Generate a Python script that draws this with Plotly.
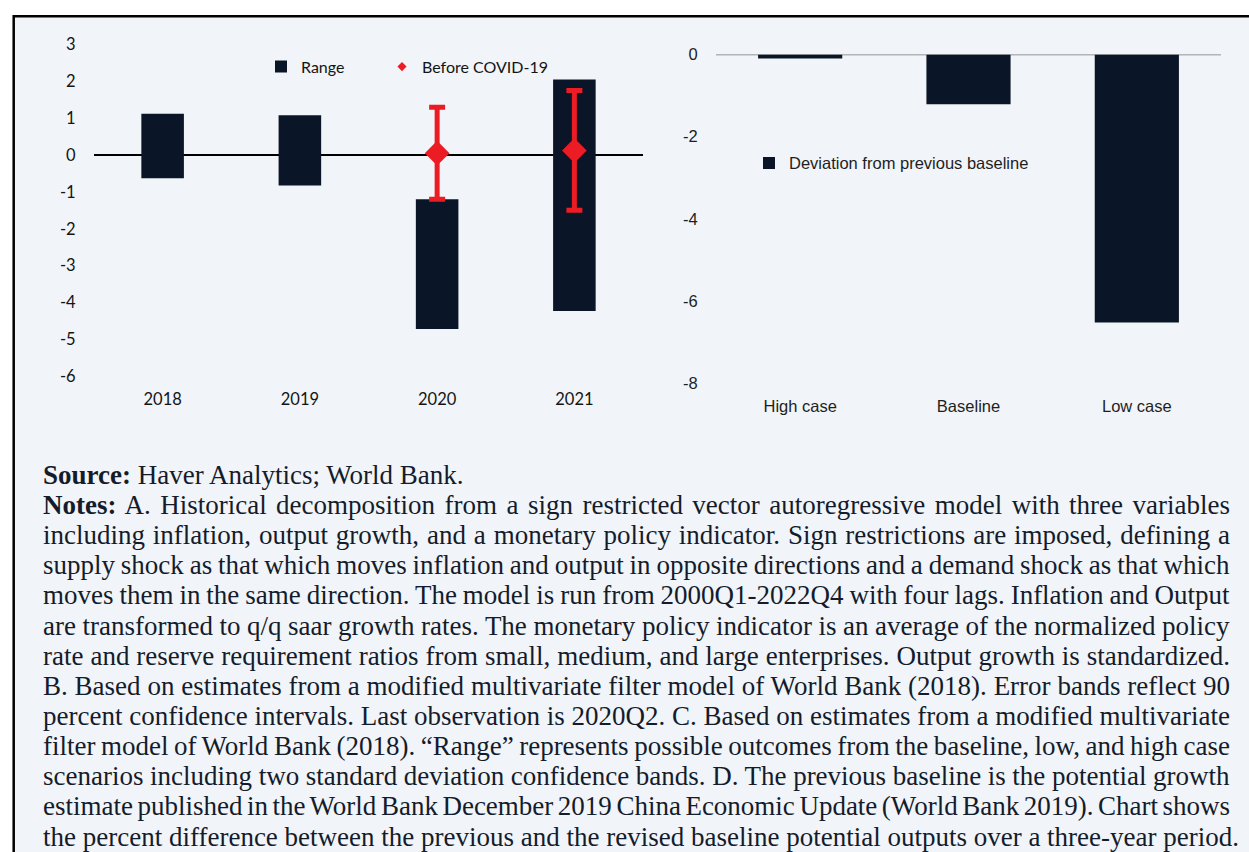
import json
import plotly.graph_objects as go

W, H = 1249, 852

# Panel C: range of outcomes and pre-COVID-19 estimate (percent)
years = ["2018", "2019", "2020", "2021"]
range_low = [-0.63, -0.83, -4.72, -4.23]
range_high = [1.12, 1.08, -1.20, 2.05]

covid_years = ["2020", "2021"]
before_covid = [0.05, 0.12]
before_covid_upper = [1.30, 1.75]
before_covid_lower = [-1.20, -1.50]

left_yticks = [-6, -5, -4, -3, -2, -1, 0, 1, 2, 3]

# Panel D: deviation from previous baseline (percent)
cases = ["High case", "Baseline", "Low case"]
deviation = [-0.10, -1.21, -6.52]

right_yticks = [-8, -6, -4, -2, 0]

note_lines = [
    "<b>Source:</b> Haver Analytics; World Bank.",
    "<b>Notes:</b> A. Historical decomposition from a sign restricted vector autoregressive model with three variables",
    "including inflation, output growth, and a monetary policy indicator. Sign restrictions are imposed, defining a",
    "supply shock as that which moves inflation and output in opposite directions and a demand shock as that which",
    "moves them in the same direction. The model is run from 2000Q1-2022Q4 with four lags. Inflation and Output",
    "are transformed to q/q saar growth rates. The monetary policy indicator is an average of the normalized policy",
    "rate and reserve requirement ratios from small, medium, and large enterprises. Output growth is standardized.",
    "B. Based on estimates from a modified multivariate filter model of World Bank (2018). Error bands reflect 90",
    "percent confidence intervals. Last observation is 2020Q2. C. Based on estimates from a modified multivariate",
    "filter model of World Bank (2018). \u201cRange\u201d represents possible outcomes from the baseline, low, and high case",
    "scenarios including two standard deviation confidence bands. D. The previous baseline is the potential growth",
    "estimate published in the World Bank December 2019 China Economic Update (World Bank 2019). Chart shows",
    "the percent difference between the previous and the revised baseline potential outputs over a three-year period.",
]

NAVY = "#0A1627"
RED = "#EC1C24"
PANEL_BG = "#F1F4F8"
TEXT = "#141C2C"
LEFT_FONT = "Lato, Calibri, sans-serif"
RIGHT_FONT = "Liberation Sans, Arial, sans-serif"
NOTE_FONT = "Liberation Serif, Times New Roman, serif"

# page offset/scale of the plot div inside the window
Y_OFF, Y_SCALE = 8.0, 0.9816


def px_x(v):
    return v / W


def px_y(v):
    return 1 - ((v - Y_OFF) / Y_SCALE) / H


fig = go.Figure()

# floating bars spanning low..high
fig.add_trace(go.Bar(
    x=years,
    y=[h - l for h, l in zip(range_high, range_low)],
    base=range_low,
    width=0.31,
    marker=dict(color=NAVY, line=dict(width=0)),
    name="Range",
    xaxis="x", yaxis="y",
    legend="legend",
    hoverinfo="skip",
))

fig.add_trace(go.Scatter(
    x=covid_years,
    y=before_covid,
    mode="markers",
    marker=dict(symbol="diamond", size=19, color=RED),
    error_y=dict(
        type="data", symmetric=False,
        array=[u - c for u, c in zip(before_covid_upper, before_covid)],
        arrayminus=[c - l for c, l in zip(before_covid, before_covid_lower)],
        color=RED, thickness=5, width=8,
    ),
    showlegend=False,
    xaxis="x", yaxis="y",
    hoverinfo="skip",
))

# legend entry with a small diamond
fig.add_trace(go.Scatter(
    x=[None], y=[None],
    mode="markers",
    marker=dict(symbol="diamond", size=7, color=RED),
    name="Before COVID-19",
    xaxis="x", yaxis="y",
    legend="legend3",
))

fig.add_trace(go.Bar(
    x=cases,
    y=deviation,
    width=0.5,
    marker=dict(color=NAVY, line=dict(width=0)),
    name="Deviation from previous baseline",
    xaxis="x2", yaxis="y2",
    legend="legend2",
    hoverinfo="skip",
))

note_top = 484.3 - 9.0
note_step = 30.3
annotations = []
for i, line in enumerate(note_lines):
    annotations.append(dict(
        xref="paper", yref="paper",
        x=px_x(42), y=px_y(note_top + i * note_step),
        xanchor="left", yanchor="middle", align="left",
        showarrow=False, borderpad=0,
        text=line,
        font=dict(family=NOTE_FONT, size=27, color=TEXT),
    ))

shapes = [
    dict(type="rect", xref="paper", yref="paper",
         x0=px_x(13.7), x1=1.05, y0=-0.05, y1=px_y(14.3),
         line=dict(color="black", width=2.5), fillcolor=PANEL_BG, layer="below"),
    dict(type="line", xref="x2 domain", yref="y2",
         x0=0, x1=1, y0=0, y1=0,
         line=dict(color="#767676", width=1.6), layer="below"),
]

legend_common = dict(
    xanchor="left", yanchor="middle",
    orientation="h", bgcolor="rgba(0,0,0,0)",
    itemclick=False, itemdoubleclick=False,
)

fig.update_layout(
    width=W, height=H, autosize=False,
    margin=dict(l=0, r=0, t=0, b=0),
    paper_bgcolor="white",
    plot_bgcolor="rgba(0,0,0,0)",
    showlegend=True,
    shapes=shapes,
    annotations=annotations,
    xaxis=dict(
        domain=[px_x(94), px_x(643)], anchor="y",
        type="category", categoryorder="array", categoryarray=years,
        range=[-0.5, 3.5],
        showgrid=False, zeroline=False, showline=False,
        ticks="outside", ticklen=8, tickcolor="rgba(0,0,0,0)",
        tickfont=dict(family=LEFT_FONT, size=16.5, color="#141414"),
        fixedrange=True,
    ),
    yaxis=dict(
        domain=[px_y(376.0), px_y(42.7)], anchor="x",
        range=[-6, 3],
        tickvals=left_yticks, ticktext=[str(v) for v in left_yticks],
        showgrid=False, showline=False,
        zeroline=True, zerolinecolor="black", zerolinewidth=2,
        ticks="outside", ticklen=14, tickcolor="rgba(0,0,0,0)",
        tickfont=dict(family=LEFT_FONT, size=16.5, color="#141414"),
        fixedrange=True,
    ),
    xaxis2=dict(
        domain=[px_x(716), px_x(1221)], anchor="y2",
        type="category", categoryorder="array", categoryarray=cases,
        range=[-0.5, 2.5],
        showgrid=False, zeroline=False, showline=False,
        ticks="outside", ticklen=8, tickcolor="rgba(0,0,0,0)",
        tickfont=dict(family=RIGHT_FONT, size=16.5, color="#1E1E1E"),
        fixedrange=True,
    ),
    yaxis2=dict(
        domain=[px_y(383.3), px_y(52.7)], anchor="x2",
        range=[-8, 0],
        tickvals=right_yticks, ticktext=[str(v) for v in right_yticks],
        showgrid=False, showline=False, zeroline=False,
        ticks="outside", ticklen=14, tickcolor="rgba(0,0,0,0)",
        tickfont=dict(family=RIGHT_FONT, size=16.5, color="#1E1E1E"),
        fixedrange=True,
    ),
    legend=dict(
        x=px_x(261), y=px_y(65),
        font=dict(family=LEFT_FONT, size=16, color="#141414"),
        **legend_common,
    ),
    legend3=dict(
        x=px_x(382), y=px_y(65),
        font=dict(family=LEFT_FONT, size=16, color="#141414"),
        **legend_common,
    ),
    legend2=dict(
        x=px_x(749), y=px_y(162),
        font=dict(family=RIGHT_FONT, size=16.5, color="#1E1E1E"),
        **legend_common,
    ),
)

# page without body margin; inner note lines spread flush to the right margin
justify = json.dumps(list(range(1, len(note_lines) - 1)))
post_js = """
document.documentElement.style.margin = '0';
document.documentElement.style.overflow = 'hidden';
document.body.style.margin = '0';
document.body.style.overflow = 'hidden';
var gd = document.getElementById('{plot_id}');
var edge = 1230;
var idx = JUSTIFY;
var left0 = gd.getBoundingClientRect().left;
gd.querySelectorAll('g.annotation').forEach(function(g) {
  var i = +g.getAttribute('data-index');
  if (idx.indexOf(i) < 0) return;
  var t = g.querySelector('text.annotation-text');
  if (!t) return;
  var n = (t.textContent.match(/ /g) || []).length;
  if (!n) return;
  var r = t.getBoundingClientRect();
  t.style.wordSpacing = ((edge - (r.right - left0)) / n) + 'px';
});
""".replace("JUSTIFY", justify)

fig.write_html(
    "out.html",
    config={"displayModeBar": False, "responsive": False},
    post_script=post_js,
)
